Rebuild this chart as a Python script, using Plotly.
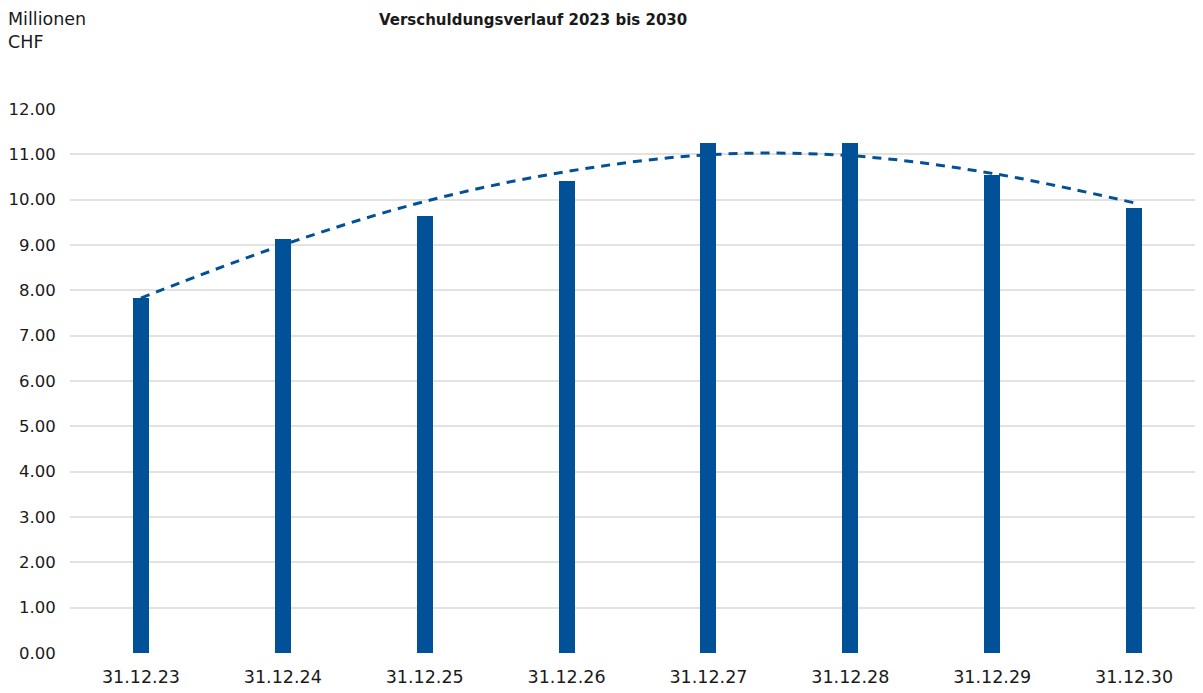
import plotly.graph_objects as go

categories = ["31.12.23", "31.12.24", "31.12.25", "31.12.26", "31.12.27", "31.12.28", "31.12.29", "31.12.30"]
debt_values = [7.83, 9.13, 9.64, 10.41, 11.25, 11.25, 10.54, 9.82]
trend_values = [7.83, 9.00, 9.96, 10.62, 10.99, 10.97, 10.58, 9.93]
y_ticks = [0, 1, 2, 3, 4, 5, 6, 7, 8, 9, 10, 11, 12]
y_tick_labels = ["%.2f" % v for v in y_ticks]

BLUE = "#005198"
FONT = "DejaVu Sans"
TXT = "#1a1a1a"

# page offset (body margin) compensation
OFF = 8
W, H = 1203, 693
L, R, T, B = 70 - OFF, 6, 109 - OFF, 693 - 653 + OFF

fig = go.Figure()
fig.add_trace(go.Bar(x=categories, y=debt_values, marker=dict(color=BLUE, line=dict(width=0)),
                     width=0.113, showlegend=False))
fig.add_trace(go.Scatter(x=categories, y=trend_values, mode="lines",
                         line=dict(color=BLUE, width=3, dash="9px,7px", shape="spline", smoothing=1.0),
                         showlegend=False))

pw = W - L - R
ph = H - T - B

def px_to_paper(x, y):
    # x, y are screenshot pixel coordinates
    return (x - OFF - L) / pw, (H - B - (y - OFF)) / ph

mx, my = px_to_paper(6, 7)
tx, ty = px_to_paper(377, 9)

fig.update_layout(
    width=W, height=H,
    margin=dict(l=L, r=R, t=T, b=B, autoexpand=False),
    paper_bgcolor="white", plot_bgcolor="white",
    font=dict(family=FONT, size=16, color=TXT),
    bargap=0,
    xaxis=dict(showgrid=False, showline=False, ticks="outside", ticklen=8, tickcolor="rgba(0,0,0,0)",
               tickfont=dict(size=17.5), range=[-0.5, 7.5], automargin=False),
    yaxis=dict(range=[0, 12], tickvals=y_ticks, ticktext=y_tick_labels,
               showgrid=True, gridcolor="#e2e2e2", gridwidth=1.5, zeroline=False,
               showline=False, ticks="outside", ticklen=10, tickcolor="rgba(0,0,0,0)",
               tickfont=dict(size=16.5), automargin=False),
    annotations=[
        dict(text="Millionen<br>CHF", x=mx, y=my, xref="paper", yref="paper", showarrow=False,
             xanchor="left", yanchor="top", align="left", font=dict(size=17.5, family=FONT, color=TXT)),
        dict(text="<b>Verschuldungsverlauf 2023 bis 2030</b>", x=tx, y=ty, xref="paper", yref="paper",
             showarrow=False, xanchor="left", yanchor="top", font=dict(size=15, family=FONT, color=TXT)),
    ],
)

fig.write_html("out.html")
